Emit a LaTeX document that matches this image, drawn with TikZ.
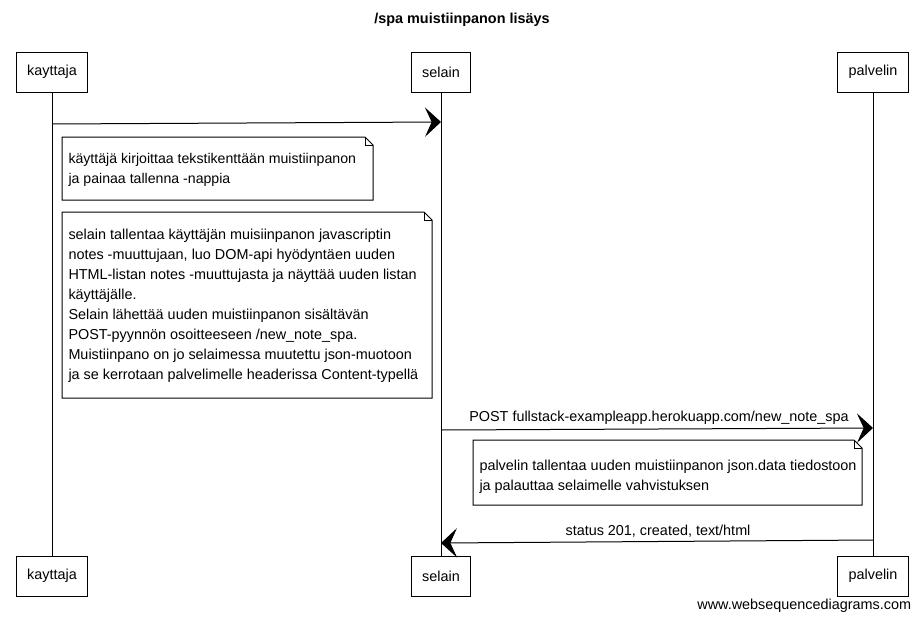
\documentclass[tikz,border=0pt]{standalone}
\usepackage{fontspec}
\setmainfont{Liberation Sans}
\usetikzlibrary{arrows.meta}

\newcommand{\notebox}[4]{%
  \draw (#1,#2) -- (#3-8,#2) -- (#3,#2+8) -- (#3,#4) -- (#1,#4) -- cycle;
  \draw (#3-8,#2) -- (#3-8,#2+8) -- (#3,#2+8);}

\begin{document}
\begin{tikzpicture}[x=0.75pt,y=-0.75pt,line width=0.75pt,
  every node/.style={font=\fontsize{10.8}{15}\selectfont},
  actor/.style={draw,minimum height=30pt,inner xsep=8pt},
  notetext/.style={anchor=west,align=left,inner sep=0pt},
  msg/.style={-{Stealth[length=12pt,width=22pt,inset=5pt]}}]

\useasboundingbox (0,0) rectangle (924,621);

\node [font=\bfseries\fontsize{10.8}{12}\selectfont] (title) at (462,20) {/spa muistiinpanon lisäys};

% osallistujat
\node [actor] (kt) at (52,72) {kayttaja};
\node [actor] (st) at (441,72) {selain};
\node [actor] (pt) at (873,72) {palvelin};
\node [actor] (kb) at (52,576) {kayttaja};
\node [actor] (sb) at (441,576) {selain};
\node [actor] (pb) at (873,576) {palvelin};

\draw (kt) -- (kb);
\draw (st) -- (sb);
\draw (pt) -- (pb);

% viestit
\coordinate (m1a) at (52,124);
\coordinate (m1b) at (441,122);
\coordinate (m2a) at (441,430);
\coordinate (m2b) at (873,428);
\coordinate (m3a) at (873,540);
\coordinate (m3b) at (441,543);

\draw [msg] (m1a) -- (m1b);
\draw [msg] (m2a) -- (m2b);
\draw [msg] (m3a) -- (m3b);

\node (l2) at (659,418) {POST fullstack-exampleapp.herokuapp.com/new\_note\_spa};
\node (l3) at (658,531) {status 201, created, text/html};

% muistiinpanot
\notebox{62}{137}{373}{200}
\node [notetext,font=\fontsize{10.6}{15}\selectfont] (n1) at (68,170) {käyttäjä kirjoittaa tekstikenttään muistiinpanon\\ja painaa tallenna -nappia};

\notebox{62}{212}{432}{398}
\node [notetext] (n2) at (68,306) {selain tallentaa käyttäjän muisiinpanon javascriptin\\notes -muuttujaan, luo DOM-api hyödyntäen uuden\\HTML-listan notes -muuttujasta ja näyttää uuden listan\\käyttäjälle.\\Selain lähettää uuden muistiinpanon sisältävän\\POST-pyynnön osoitteeseen /new\_note\_spa.\\Muistiinpano on jo selaimessa muutettu json-muotoon\\ja se kerrotaan palvelimelle headerissa Content-typellä};

\notebox{473}{440}{862}{505}
\node [notetext] (n3) at (479,477) {palvelin tallentaa uuden muistiinpanon json.data tiedostoon\\ja palauttaa selaimelle vahvistuksen};

\node [anchor=east] (wsd) at (916,606) {www.websequencediagrams.com};

\end{tikzpicture}
\end{document}
